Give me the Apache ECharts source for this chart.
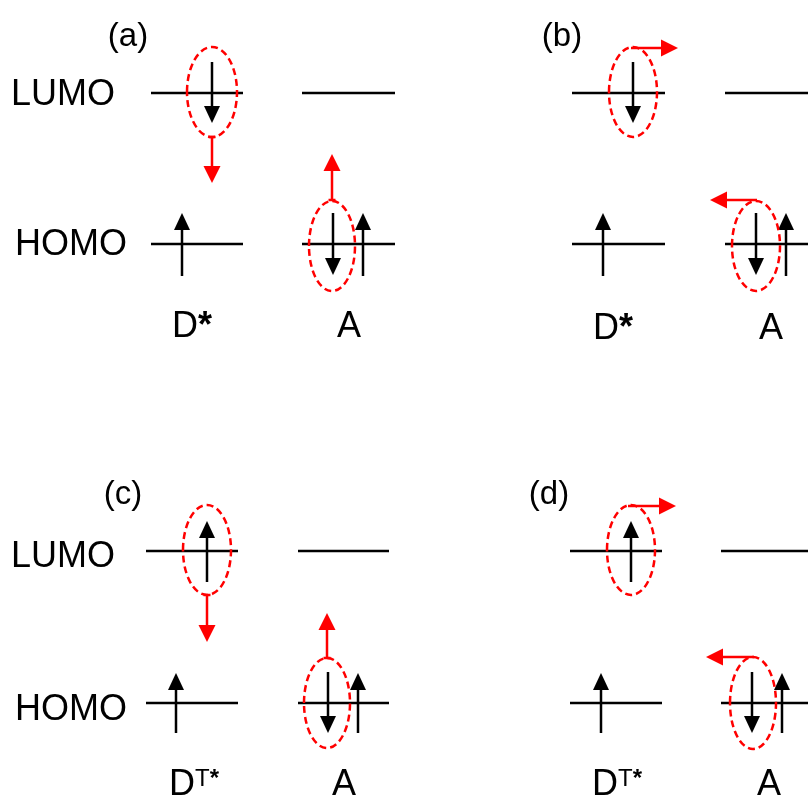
<!DOCTYPE html>
<html><head><meta charset="utf-8">
<script src="https://cdn.jsdelivr.net/npm/echarts@6/dist/echarts.min.js"></script>
<style>html,body{margin:0;padding:0;background:#fff}#c{width:808px;height:798px}</style>
</head><body><div id="c"></div>
<script>
// Diagram data (x, y in the hidden 808 x 798 diagram axes; y grows downward)
const tagText = ['(a)', '(b)', '(c)', '(d)'];
const tagPos = [[128, 37], [562, 37], [123, 495], [549, 495]];

const orbitalText = ['LUMO', 'HOMO', 'LUMO', 'HOMO'];
const orbitalPos = [[63, 95], [71, 245], [63, 557], [71, 710]];

const moleculeText = ['{d|D}{s|*}', 'A', '{d|D}{s|*}', 'A', '{d|D}{t|T}{ts|*}', 'A', '{d|D}{t|T}{ts|*}', 'A'];
const moleculePos = [[192, 327], [349, 327], [613, 329], [771, 329], [194, 785], [344, 785], [617, 785], [769, 785]];

// energy levels: [xStart, xEnd, y]
const levels = [
  [151, 243, 93], [302, 395, 93], [151, 243, 244], [302, 395, 244],
  [572, 665, 93], [725, 818, 93], [572, 665, 244], [725, 818, 244],
  [146, 238, 551], [298, 389, 551], [146, 238, 703], [298, 389, 703],
  [570, 662, 551], [721, 814, 551], [570, 662, 703], [721, 814, 703]
];

// electron spins: [x, yTail, yTip]
const spins = [
  [212, 62, 123], [182, 276, 213], [333, 213, 275], [363, 276, 213],
  [633, 62, 123], [603, 276, 213], [756, 213, 275], [786, 276, 213],
  [207, 582, 521], [176, 733, 673], [328, 672, 733], [358, 733, 673],
  [631, 582, 521], [601, 733, 673], [752, 672, 733], [782, 733, 673]
];

// dashed ellipses: [cx, cy, rx, ry]
const ellipses = [
  [212, 92, 25, 45], [332, 246, 23, 45],
  [633, 92, 24, 45], [756, 246, 24, 45],
  [207, 550, 24, 45], [327, 703, 23, 45],
  [631, 550, 24, 45], [753, 703, 23, 46]
];

// red transfer arrows: [x1, y1, x2, y2]
const transfers = [
  [212, 137, 212, 183], [332, 200, 332, 154],
  [631, 48, 678, 48], [757, 200, 710, 200],
  [207, 595, 207, 642], [327, 658, 327, 613],
  [628, 506, 676, 506], [754, 657, 706, 657]
];

const FONT = '"Liberation Sans", Arial, sans-serif';

function arrowEls(p1, p2, color, lw, hl, hw, tick) {
  const dx = p2[0] - p1[0], dy = p2[1] - p1[1], len = Math.hypot(dx, dy);
  const ux = dx / len, uy = dy / len, nx = -uy, ny = ux;
  const bx = p2[0] - ux * hl, by = p2[1] - uy * hl;
  const els = [
    {type: 'line', shape: {x1: p1[0], y1: p1[1], x2: bx + ux, y2: by + uy},
     style: {stroke: color, lineWidth: lw}},
    {type: 'polygon', shape: {points: [[p2[0], p2[1]], [bx + nx * hw / 2, by + ny * hw / 2], [bx - nx * hw / 2, by - ny * hw / 2]]},
     style: {fill: color}}
  ];
  if (tick) {
    els.push({type: 'line', shape: {x1: p1[0] - nx * tick, y1: p1[1] - ny * tick, x2: p1[0] + nx * tick, y2: p1[1] + ny * tick},
      style: {stroke: color, lineWidth: lw}});
  }
  return els;
}

function textSeries(texts, pos, size) {
  return {
    type: 'custom', coordinateSystem: 'cartesian2d', silent: true, data: pos,
    renderItem: function (params, api) {
      const p = api.coord([api.value(0), api.value(1)]);
      return {type: 'text', x: p[0], y: p[1], style: {
        text: texts[params.dataIndex], fill: '#000', fontSize: size, fontFamily: FONT,
        align: 'center', verticalAlign: 'middle',
        rich: {
          d: {fontSize: size, fontFamily: FONT, fill: '#000', lineHeight: size},
          s: {fontSize: size, fontFamily: FONT, fontWeight: 'bold', fill: '#000', lineHeight: size},
          t: {fontSize: 24, fontFamily: FONT, fill: '#000', verticalAlign: 'top', lineHeight: 24},
          ts: {fontSize: 24, fontFamily: FONT, fontWeight: 'bold', fill: '#000', verticalAlign: 'top', lineHeight: 24}
        }
      }};
    }
  };
}

const chart = echarts.init(document.getElementById('c'), null, {renderer: 'canvas'});
chart.setOption({
  animation: false,
  backgroundColor: '#fff',
  grid: {left: 0, right: 0, top: 0, bottom: 0},
  xAxis: {type: 'value', min: 0, max: 808, show: false},
  yAxis: {type: 'value', min: 0, max: 798, inverse: true, show: false},
  series: [
    {
      type: 'custom', coordinateSystem: 'cartesian2d', silent: true, data: levels,
      encode: {x: [0, 1], y: 2},
      renderItem: function (params, api) {
        const a = api.coord([api.value(0), api.value(2)]);
        const b = api.coord([api.value(1), api.value(2)]);
        return {type: 'line', shape: {x1: a[0], y1: a[1], x2: b[0], y2: b[1]}, style: {stroke: '#000', lineWidth: 2.5}};
      }
    },
    {
      type: 'custom', coordinateSystem: 'cartesian2d', silent: true, data: spins,
      encode: {x: 0, y: [1, 2]},
      renderItem: function (params, api) {
        const a = api.coord([api.value(0), api.value(1)]);
        const b = api.coord([api.value(0), api.value(2)]);
        return {type: 'group', children: arrowEls(a, b, '#000', 2.5, 17, 16, 0)};
      }
    },
    {
      type: 'custom', coordinateSystem: 'cartesian2d', silent: true, data: ellipses,
      encode: {x: 0, y: 1},
      renderItem: function (params, api) {
        const c = api.coord([api.value(0), api.value(1)]);
        const s = api.size([api.value(2), api.value(3)]);
        return {type: 'ellipse', shape: {cx: c[0], cy: c[1], rx: s[0], ry: s[1]},
          style: {fill: 'none', stroke: '#ff0000', lineWidth: 2.5, lineDash: [7, 4]}};
      }
    },
    {
      type: 'custom', coordinateSystem: 'cartesian2d', silent: true, data: transfers,
      encode: {x: [0, 2], y: [1, 3]},
      renderItem: function (params, api) {
        const a = api.coord([api.value(0), api.value(1)]);
        const b = api.coord([api.value(2), api.value(3)]);
        const vertical = Math.abs(a[0] - b[0]) < 1;
        return {type: 'group', children: arrowEls(a, b, '#ff0000', 2.5, 17, 17, vertical ? 3.5 : 0)};
      }
    },
    textSeries(tagText, tagPos, 33),
    textSeries(orbitalText, orbitalPos, 36),
    textSeries(moleculeText, moleculePos, 36)
  ]
});
</script></body></html>
